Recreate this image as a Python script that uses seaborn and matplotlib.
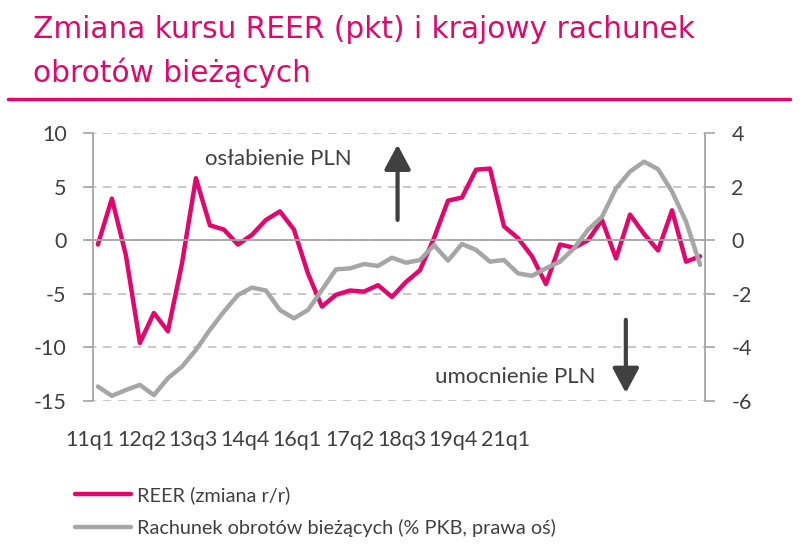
import matplotlib.pyplot as plt
from matplotlib.lines import Line2D
import pandas as pd
import seaborn as sns

sns.set_theme(style="white")
plt.rcParams["font.family"] = ["Lato", "DejaVu Sans"]
plt.rcParams["axes.unicode_minus"] = False

MAGENTA = "#e2066f"
GREY = "#a6a6a6"
AXIS = "#a6a6a6"
GRID = "#bfbfbf"
TEXT = "#404040"
ARROW = "#404040"

# kwartały 11q1 .. 21q4
quarters = [f"{y}q{q}" for y in range(11, 22) for q in range(1, 5)]

# REER, zmiana r/r (lewa oś)
reer = [-0.4, 3.9, -1.4, -9.6, -6.8, -8.5, -2.2, 5.8, 1.4, 1.0,
        -0.4, 0.5, 1.9, 2.7, 1.0, -3.1, -6.2, -5.1, -4.7, -4.8,
        -4.2, -5.3, -3.9, -2.8, 0.2, 3.7, 4.0, 6.6, 6.7, 1.3,
        0.2, -1.5, -4.1, -0.4, -0.7, 0.0, 1.9, -1.7, 2.4, 0.6,
        -0.95, 2.8, -2.0, -1.5]

# rachunek obrotów bieżących, % PKB (prawa oś)
current_account = [-5.47, -5.82, -5.6, -5.41, -5.79, -5.16, -4.73, -4.1, -3.35, -2.67,
                   -2.05, -1.77, -1.88, -2.61, -2.92, -2.61, -1.86, -1.09, -1.05, -0.89,
                   -0.96, -0.65, -0.84, -0.74, -0.18, -0.76, -0.14, -0.36, -0.8, -0.74,
                   -1.24, -1.33, -1.05, -0.8, -0.3, 0.39, 0.88, 1.94, 2.57, 2.94,
                   2.66, 1.82, 0.7, -0.92]

tick_labels = ["11q1", "12q2", "13q3", "14q4", "16q1", "17q2", "18q3", "19q4", "21q1"]
# położenie podpisów osi x (tak jak w oryginale, ściśnięte w lewo)
tick_label_pos = [-0.56, 3.15, 6.79, 10.51, 14.22, 18.0, 21.72, 25.36, 29.08]
tick_mark_pos = [4.5, 9.5, 14.5, 19.5, 24.5, 29.5, 34.5, 39.5]

legend_labels = ["REER (zmiana r/r)", "Rachunek obrotów bieżących (% PKB, prawa oś)"]

df = pd.DataFrame({"idx": range(len(quarters)), "quarter": quarters,
                   "reer": reer, "ca": current_account})

fig = plt.figure(figsize=(8, 5.45), dpi=100)
ax = fig.add_axes([0.1101, 0.2648, 0.7711, 0.4906])
ax2 = ax.twinx()

sns.lineplot(data=df, x="idx", y="reer", ax=ax, color=MAGENTA, lw=3.2, legend=False)
sns.lineplot(data=df, x="idx", y="ca", ax=ax2, color=GREY, lw=3.2, legend=False)

ax.set_xlim(-0.7, 43.35)
ax.set_ylim(-15, 10)
ax.set_yticks(range(-15, 11, 5))
ax2.set_ylim(-6, 4)
ax2.set_yticks(range(-6, 5, 2))
for a in (ax, ax2):
    a.set_xlabel("")
    a.set_ylabel("")

ax.yaxis.grid(True, color=GRID, lw=1.2, ls=(0, (5, 4)))
ax.xaxis.grid(False)

ax.spines[["top", "right"]].set_visible(False)
ax.spines["left"].set_position(("data", -0.35))
ax.spines["left"].set_color(AXIS)
ax.spines["left"].set_linewidth(1.3)
ax.spines["bottom"].set_position(("data", 0))
ax.spines["bottom"].set_color(AXIS)
ax.spines["bottom"].set_linewidth(1.3)
ax2.spines[["top", "bottom", "left"]].set_visible(False)
ax2.spines["right"].set_color(AXIS)
ax2.spines["right"].set_linewidth(1.3)

ax.set_xticks(tick_mark_pos)
ax.tick_params(axis="x", direction="in", length=6, width=1.2, color=AXIS, labelbottom=False)
ax.tick_params(axis="y", left=True, length=7, width=1.2, color=AXIS, pad=12,
               labelsize=15.5, labelcolor=TEXT)
ax2.tick_params(axis="y", right=True, length=7, width=1.2, color=AXIS, pad=12,
                labelsize=15.5, labelcolor=TEXT)

sec = ax.secondary_xaxis("bottom")
sec.set_xticks(tick_label_pos, tick_labels)
sec.tick_params(length=0, pad=21, labelsize=15.5, labelcolor=TEXT)
sec.spines["bottom"].set_visible(False)

arrow_style = dict(arrowstyle="-|>,head_length=0.75,head_width=0.4", color=ARROW,
                   lw=3, mutation_scale=20, shrinkA=0, shrinkB=0)
ax.annotate("", xy=(21.4, 8.94), xytext=(21.4, 1.9), arrowprops=arrow_style)
ax.annotate("", xy=(37.7, -14.28), xytext=(37.7, -7.44), arrowprops=arrow_style)
ax.text(12.9, 7.63, "osłabienie PLN", ha="center", va="center", fontsize=16, color=TEXT)
ax.text(29.8, -12.75, "umocnienie PLN", ha="center", va="center", fontsize=16, color=TEXT)

fig.text(0.041, 1 - 30 / 545, "Zmiana kursu REER (pkt) i krajowy rachunek",
         fontsize=21.3, color=MAGENTA, va="center", family=["DejaVu Sans"])
fig.text(0.041, 1 - 73 / 545, "obrotów bieżących",
         fontsize=21.3, color=MAGENTA, va="center", family=["DejaVu Sans"])
fig.add_artist(Line2D([0.01, 0.988], [0.818, 0.818], color=MAGENTA, lw=2.5))

handles = [Line2D([], [], color=MAGENTA, lw=3.2), Line2D([], [], color=GREY, lw=3.2)]
fig.legend(handles, legend_labels, loc="upper left", bbox_to_anchor=(0.094, 1 - 486 / 545),
           frameon=False, fontsize=14.3, handlelength=2.8, handletextpad=0.3,
           labelspacing=0.75, borderpad=0, borderaxespad=0, labelcolor=TEXT)

fig.savefig("out.png", dpi=100)
